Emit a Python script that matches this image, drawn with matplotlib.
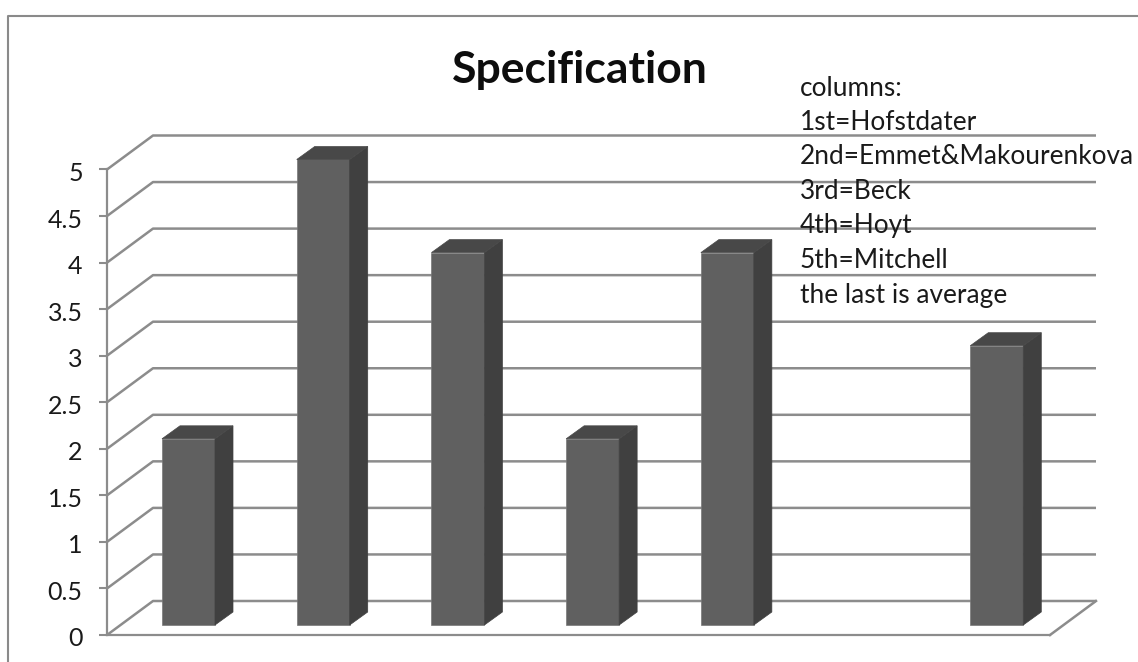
import matplotlib
matplotlib.use('Agg')
import matplotlib.pyplot as plt
from matplotlib.patches import Polygon
from matplotlib.transforms import ScaledTranslation

plt.rcParams['font.family'] = ['Lato', 'DejaVu Sans']

W, H = 1138, 662

# one value per column, the sixth slot stays empty
values = [2, 5, 4, 2, 4, None, 3]
y_ticks = [0, 0.5, 1, 1.5, 2, 2.5, 3, 3.5, 4, 4.5, 5]
y_labels = ['0', '0.5', '1', '1.5', '2', '2.5', '3', '3.5', '4', '4.5', '5']
title = 'Specification'
note_lines = ['columns:', '1st=Hofstdater', '2nd=Emmet&Makourenkova', '3rd=Beck',
              '4th=Hoyt', '5th=Mitchell', 'the last is average']

GRID = '#8c8c8c'
FRONT = '#606060'
SIDE = '#404040'
TOP = '#484848'

# depth of the fake 3D box and of the columns, in axis units
px_x = 7 / 943
px_y = 5 / 465.5
box_dx, box_dy = 46 * px_x, 34 * px_y
bar_dx, bar_dy = 18 * px_x, 13 * px_y
bar_w = 53 * px_x
bar_off = 55 * px_x
bar_base = 10 * px_y

fig = plt.figure(figsize=(W / 100, H / 100), dpi=100)
ax = fig.add_axes([107 / W, 1 - 635 / H, 943 / W, 465.5 / H])
ax.set_xlim(0, 7)
ax.set_ylim(0, 5)
ax.patch.set_visible(False)

for s in ['top', 'right']:
    ax.spines[s].set_visible(False)
for s in ['left', 'bottom']:
    ax.spines[s].set_color(GRID)
    ax.spines[s].set_linewidth(1.6)

ax.set_xticks([])
ax.set_yticks(y_ticks)
ax.set_yticklabels(y_labels, fontsize=18, color='#1a1a1a')
ax.tick_params(axis='y', length=5.5, width=1.5, color=GRID, pad=12)

# labels sit a little below their ticks
nudge = ScaledTranslation(0, -2 / 100, fig.dpi_scale_trans)
for lab in ax.get_yticklabels():
    lab.set_transform(lab.get_transform() + nudge)

# gridlines run along the side wall and then the back wall
for v in y_ticks:
    ax.plot([0, box_dx, 7 + box_dx], [v, v + box_dy, v + box_dy],
            color=GRID, lw=1.8, clip_on=False, zorder=1, solid_capstyle='butt')
ax.plot([7, 7 + box_dx], [0, box_dy], color=GRID, lw=1.8, clip_on=False, zorder=1)

# columns: front face, right side, top
for i, v in enumerate(values):
    if v is None:
        continue
    x0 = i + bar_off
    x1 = x0 + bar_w
    y0 = bar_base
    y1 = bar_base + v
    ax.add_patch(Polygon([(x0, y0), (x1, y0), (x1, y1), (x0, y1)],
                         fc=FRONT, ec='#787878', lw=0.5, zorder=3, clip_on=False))
    ax.add_patch(Polygon([(x1, y0), (x1 + bar_dx, y0 + bar_dy),
                          (x1 + bar_dx, y1 + bar_dy), (x1, y1)],
                         fc=SIDE, ec=SIDE, lw=0.5, zorder=3, clip_on=False))
    ax.add_patch(Polygon([(x0, y1), (x1, y1), (x1 + bar_dx, y1 + bar_dy),
                          (x0 + bar_dx, y1 + bar_dy)],
                         fc=TOP, ec=TOP, lw=0.5, zorder=3, clip_on=False))

# frame around the chart, open on the right and at the bottom
fig.add_artist(plt.Line2D([8 / W, 8 / W, 1], [0, 1 - 15.5 / H, 1 - 15.5 / H],
                          color='#8a8a8a', lw=1.5))

fig.text(580 / W, 1 - 70 / H, title, fontsize=32, fontweight='bold',
         ha='center', va='center', color='#0d0d0d')

for i, line in enumerate(note_lines):
    fig.text(800 / W, 1 - (88 + 34.5 * i) / H, line, fontsize=18.9,
             ha='left', va='center', color='#1a1a1a', zorder=5)

fig.savefig('out.png', dpi=100, facecolor='white')
